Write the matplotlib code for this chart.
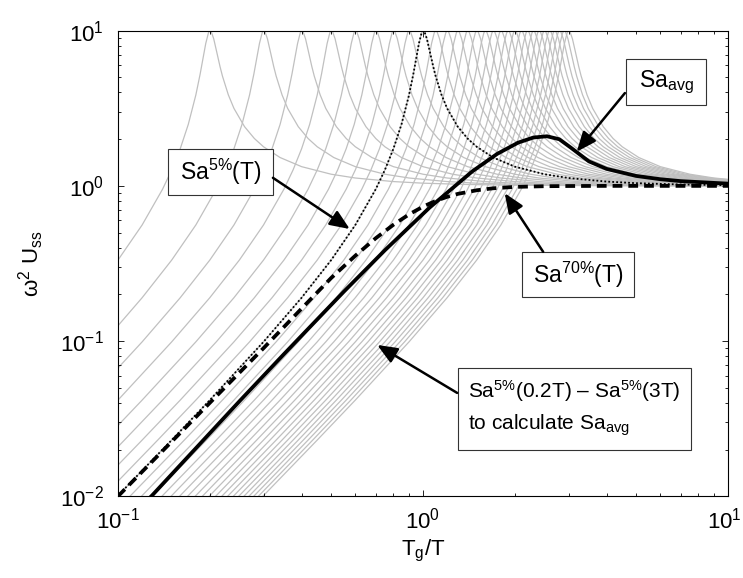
import matplotlib
matplotlib.use('Agg')
import matplotlib.pyplot as plt
from matplotlib.patches import Rectangle
from matplotlib.transforms import ScaledTranslation

plt.rcParams['font.family'] = ['Liberation Sans', 'DejaVu Sans']
plt.rcParams['mathtext.fontset'] = 'custom'
plt.rcParams['mathtext.rm'] = 'Liberation Sans'
plt.rcParams['mathtext.it'] = 'Liberation Sans:italic'
plt.rcParams['mathtext.bf'] = 'Liberation Sans:bold'

# period factors of the 5%-damped family, Sa(0.2T) ... Sa(3T)
period_factors = [0.2, 0.3, 0.4, 0.5, 0.6, 0.7, 0.8, 0.9, 1.0, 1.1, 1.2, 1.3, 1.4, 1.5,
                  1.6, 1.7, 1.8, 1.9, 2.0, 2.1, 2.2, 2.3, 2.4, 2.5, 2.6, 2.7, 2.8, 2.9, 3.0]

# steady-state amplification, 5% damping, vs frequency ratio
ratio = [0.03, 0.05, 0.1, 0.15, 0.2, 0.3, 0.4, 0.5, 0.6, 0.7, 0.75, 0.8, 0.85, 0.9,
         0.93, 0.95, 0.97, 0.99, 1.0, 1.01, 1.03, 1.05, 1.08, 1.1, 1.15, 1.2, 1.3,
         1.4, 1.5, 1.7, 2.0, 2.5, 3.0, 4.0, 5.0, 7.0, 10.0, 20.0, 50.0]
amp_5pct = [0.000901, 0.002506, 0.0101, 0.02302, 0.04166, 0.09885, 0.1903, 0.3326,
            0.5600, 0.9519, 1.2672, 1.7355, 2.4894, 3.853, 5.273, 6.630, 8.283, 9.706,
            10.0, 9.906, 8.866, 7.514, 5.880, 5.104, 3.863, 3.157, 2.407, 2.020, 1.787,
            1.523, 1.330, 1.189, 1.124, 1.066, 1.041, 1.021, 1.010, 1.0025, 1.0004]

# same system, 70% damping
ratio_70 = [0.1, 0.15, 0.2, 0.3, 0.4, 0.5, 0.6, 0.7, 0.8, 0.9, 1.0, 1.1, 1.2, 1.3,
            1.5, 1.7, 2.0, 2.5, 3.0, 4.0, 5.0, 7.0, 10.0]
amp_70pct = [0.0100, 0.0225, 0.0400, 0.0900, 0.162, 0.255, 0.355, 0.460, 0.562,
             0.655, 0.735, 0.800, 0.850, 0.888, 0.937, 0.965, 0.985, 0.995, 0.998,
             1.000, 1.000, 1.000, 1.000]

# geometric mean of the 5% family
tg_avg = [0.1, 0.13, 0.25, 0.35, 0.55, 0.75, 1.05, 1.45, 1.75, 2.05, 2.3, 2.55, 2.8,
          3.05, 3.5, 4.0, 5.0, 6.0, 7.0, 10.0]
sa_avg = [0.0060, 0.01023, 0.0409, 0.0824, 0.2081, 0.3848, 0.7233, 1.239, 1.607,
          1.899, 2.049, 2.088, 1.997, 1.766, 1.438, 1.287, 1.159, 1.104, 1.073, 1.034]

fig = plt.figure(figsize=(7.43, 5.78), dpi=100)
ax = fig.add_axes([0.1588, 0.1414, 0.8210, 0.8055])

for c in period_factors:
    ax.plot([c * r for r in ratio], amp_5pct, color='#c0c0c0', lw=0.9, zorder=1)

ax.plot(ratio, amp_5pct, color='k', lw=1.3, linestyle=(0, (1, 1.2)), zorder=3)
ax.plot(ratio_70, amp_70pct, color='k', lw=2.7, dashes=(2.6, 1.6), zorder=3)
ax.plot(tg_avg, sa_avg, color='k', lw=2.7, zorder=4)

ax.set_xscale('log')
ax.set_yscale('log')
ax.set_xlim(0.1, 10)
ax.set_ylim(0.01, 10)

ax.tick_params(which='both', direction='in', top=True, right=True, labelsize=16, width=0.6)
ax.tick_params(which='major', length=4.5)
ax.tick_params(which='minor', length=2.5)
ax.tick_params(axis='x', pad=8)
ax.tick_params(axis='y', pad=10)
for s in ax.spines.values():
    s.set_linewidth(0.8)

# pull the 10^1 label a little in from the right edge
fig.canvas.draw()
for lab in ax.get_xticklabels():
    if lab.get_position()[0] == 10:
        lab.set_transform(lab.get_transform() + ScaledTranslation(-4 / 100, 0, fig.dpi_scale_trans))

ax.set_xlabel('T$_\\mathrm{g}$/T', fontsize=16, labelpad=3)
ax.set_ylabel('ω$^\\mathrm{2}$ U$_\\mathrm{ss}$', fontsize=16, labelpad=10)

# labelled boxes with arrows (axes fractions)
boxes = [
    ((0.082, 0.647, 0.172, 0.099), 'Sa$^\\mathrm{5\\%}$(T)', 16.5, (0.254, 0.684), (0.380, 0.574)),
    ((0.833, 0.840, 0.131, 0.099), 'Sa$_\\mathrm{avg}$', 16.5, (0.831, 0.866), (0.752, 0.740)),
    ((0.662, 0.428, 0.184, 0.097), 'Sa$^\\mathrm{70\\%}$(T)', 16.5, (0.697, 0.525), (0.634, 0.651)),
]
head = '-|>,head_length=0.6,head_width=0.25'
for (bx, by, bw, bh), label, fs, tail, tip in boxes:
    ax.add_patch(Rectangle((bx, by), bw, bh, transform=ax.transAxes, facecolor='white',
                           edgecolor='#333333', lw=0.8, zorder=5))
    ax.text(bx + bw / 2, by + bh / 2, label, transform=ax.transAxes, fontsize=fs,
            ha='center', va='center', zorder=6)
    ax.annotate('', xy=tip, xytext=tail, xycoords='axes fraction', textcoords='axes fraction',
                arrowprops=dict(arrowstyle=head, lw=1.8, color='k', shrinkA=0, shrinkB=0,
                                mutation_scale=20), zorder=6)

ax.add_patch(Rectangle((0.557, 0.0994), 0.382, 0.1762, transform=ax.transAxes,
                       facecolor='white', edgecolor='#333333', lw=0.8, zorder=5))
ax.text(0.574, 0.225, 'Sa$^\\mathrm{5\\%}$(0.2T) – Sa$^\\mathrm{5\\%}$(3T)', transform=ax.transAxes,
        fontsize=15, ha='left', va='center', zorder=6)
ax.text(0.574, 0.152, 'to calculate Sa$_\\mathrm{avg}$', transform=ax.transAxes,
        fontsize=15, ha='left', va='center', zorder=6)
ax.annotate('', xy=(0.425, 0.325), xytext=(0.556, 0.222), xycoords='axes fraction',
            textcoords='axes fraction',
            arrowprops=dict(arrowstyle=head, lw=1.8, color='k', shrinkA=0, shrinkB=0,
                            mutation_scale=20), zorder=6)

fig.savefig('out.png', dpi=100)
